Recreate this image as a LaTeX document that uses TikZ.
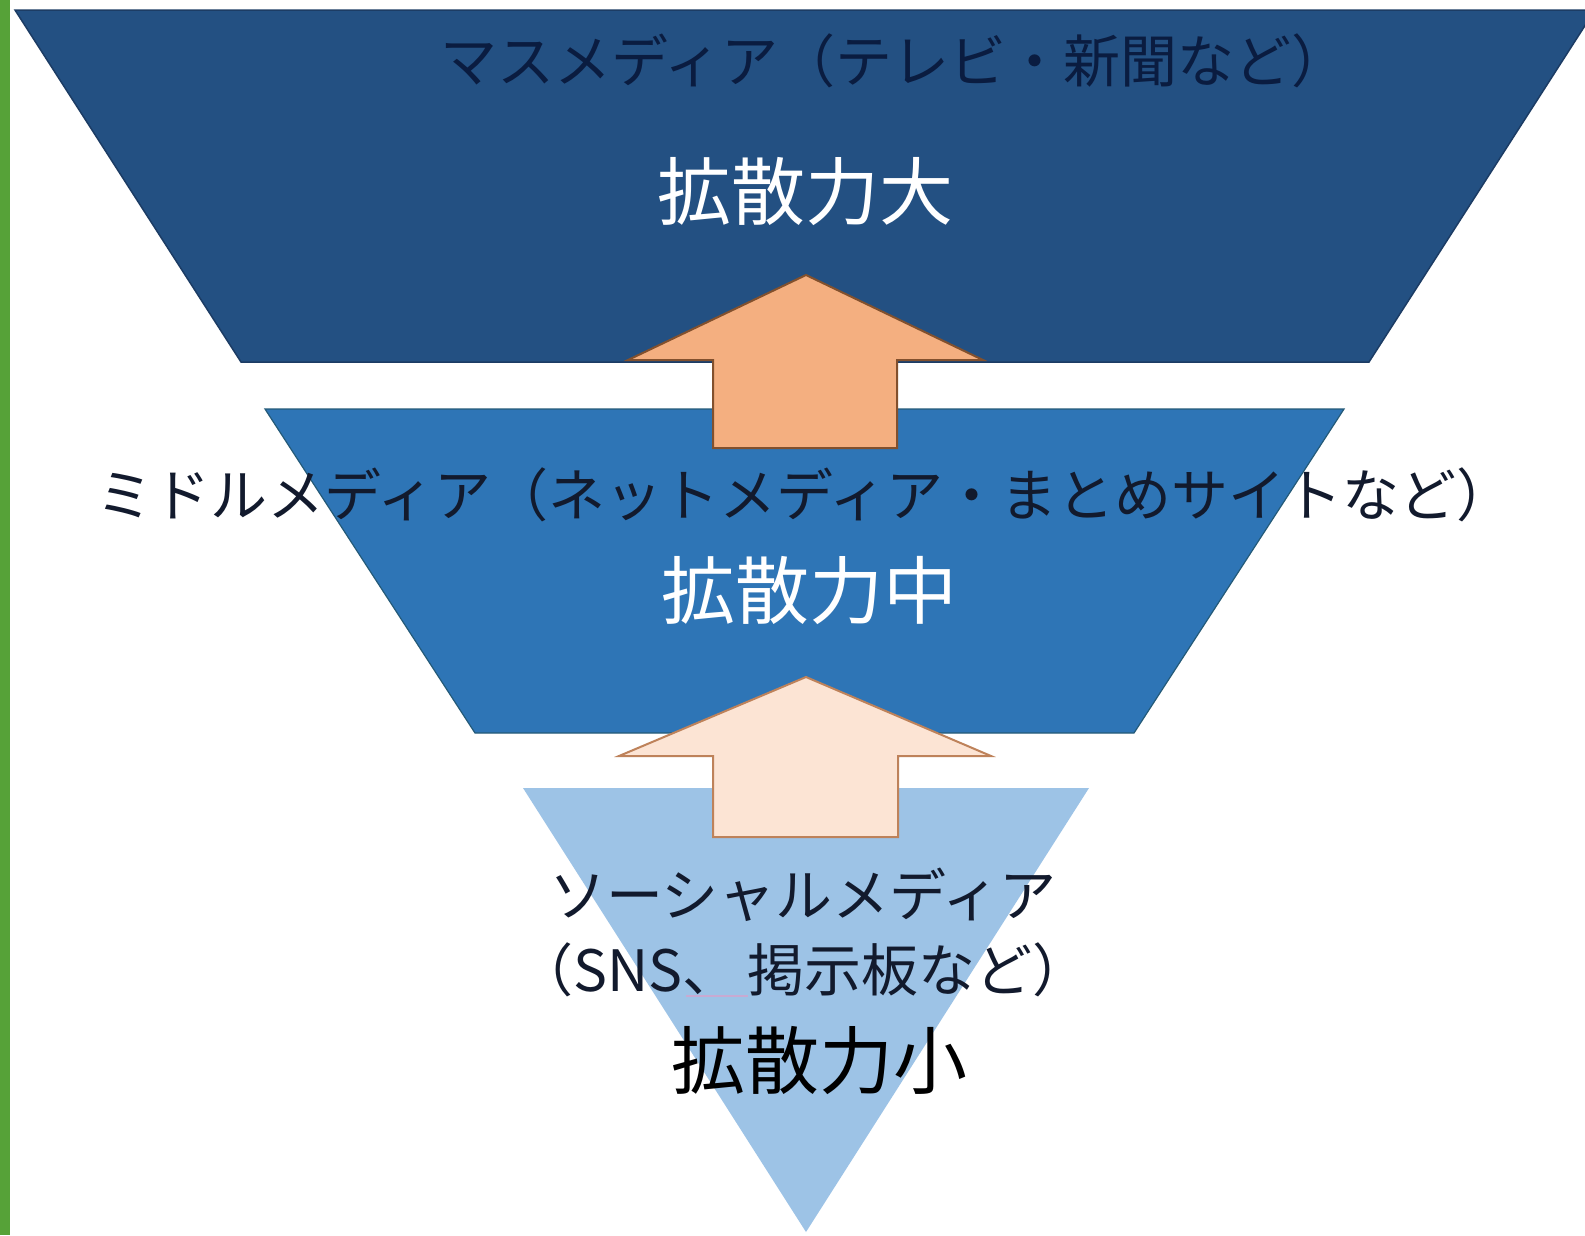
\documentclass[tikz,border=0pt]{standalone}
\usepackage{fontspec}
\setmainfont{Noto Sans CJK JP}
\definecolor{greenbar}{RGB}{86,162,56}
\definecolor{topband}{RGB}{35,80,130}
\definecolor{topedge}{RGB}{28,60,100}
\definecolor{midband}{RGB}{46,117,182}
\definecolor{midedge}{RGB}{36,90,120}
\definecolor{lowband}{RGB}{157,195,230}
\definecolor{arrowA}{RGB}{244,175,128}
\definecolor{arrowAedge}{RGB}{130,80,45}
\definecolor{arrowB}{RGB}{252,228,212}
\definecolor{arrowBedge}{RGB}{190,130,90}
\definecolor{toptext}{RGB}{10,28,64}
\definecolor{darktext}{RGB}{18,26,45}
\definecolor{underl}{RGB}{200,170,210}
\tikzset{
  lbl/.style={inner sep=0pt, text=darktext, font=\fontsize{57}{60}\selectfont},
  bigtxt/.style={inner sep=0pt, font=\fontsize{74}{80}\selectfont},
  blockarrow/.style={line width=2pt, line join=miter},
}
\begin{document}
\begin{tikzpicture}[x=1pt,y=-1pt]
\useasboundingbox (0,0) rectangle (1585,1235);
\clip (0,0) rectangle (1585,1235);
\fill[white] (0,0) rectangle (1585,1235);
\fill[greenbar] (0,0) rectangle (10,1235);
% bands
\filldraw[fill=topband, draw=topedge, line width=1.5pt] (15,10) -- (1595,10) -- (1369,362) -- (241,362) -- cycle;
\filldraw[fill=midband, draw=midedge, line width=1.2pt] (265,409) -- (1344,409) -- (1134,733) -- (475,733) -- cycle;
\fill[lowband] (523,788) -- (1089,788) -- (806,1232) -- cycle;
% block arrows
\filldraw[blockarrow, fill=arrowA, draw=arrowAedge] (806,275) -- (983,360) -- (897,360) -- (897,448) -- (713,448) -- (713,360) -- (628,360) -- cycle;
\filldraw[blockarrow, fill=arrowB, draw=arrowBedge] (806,677) -- (991,756) -- (898,756) -- (898,837) -- (713,837) -- (713,756) -- (619,756) -- cycle;
% texts
\node[lbl, text=toptext, anchor=west] (mass) at (440,61) {マスメディア（テレビ・新聞など）};
\node[bigtxt, text=white] (large) at (805,192) {拡散力大};
\node[lbl, anchor=west] (middle) at (96,495) {ミドルメディア（ネットメディア・まとめサイトなど）};
\node[bigtxt, text=white] (mid) at (809,591) {拡散力中};
\node[lbl] (social) at (803,895) {ソーシャルメディア};
\node[lbl] (sns) at (803,970) {（SNS、\hspace{0.15em}掲示板など）};
\coordinate (ulA) at (686,996);
\coordinate (ulB) at (748,996);
\draw[underl, line width=2pt] (ulA) -- (ulB);
\node[bigtxt, text=black] (small) at (819,1061) {拡散力小};
\end{tikzpicture}
\end{document}
